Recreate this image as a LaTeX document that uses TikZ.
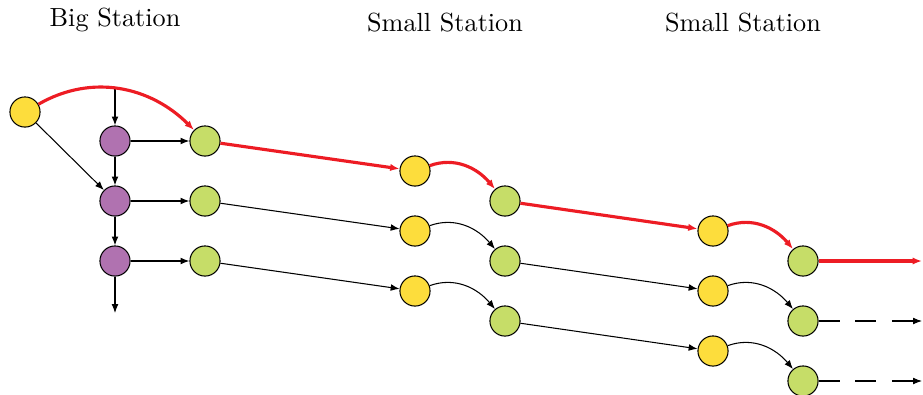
\documentclass[tikz,border=0pt]{standalone}
\usepackage{tikz}
\usetikzlibrary{arrows.meta}
\definecolor{yard}{RGB}{253,221,60}
\definecolor{hub}{RGB}{176,114,176}
\definecolor{leave}{RGB}{198,221,104}
\definecolor{route}{RGB}{237,28,36}
\tikzset{every node/.style={draw, circle, inner sep=0pt, minimum size=11.5pt}}
\tikzset{train/.style={-{Latex[length=3.4pt, width=2.6pt]}},
  fast/.style={-{Latex[length=3.6pt, width=2.8pt]}, route, very thick}}

\begin{document}
\begin{tikzpicture}[x=0.3817pt, y=-0.3817pt]
\useasboundingbox (0,0) rectangle (923,394);

\node[draw=none, rectangle] (big) at (115,20) {Big Station};
\node[draw=none, rectangle] (small1) at (445,23) {Small Station};
\node[draw=none, rectangle] (small2) at (743,23) {Small Station};

\begin{scope}[every node/.append style={fill=yard}]
\node (y0) at (25,112) {};
\node (a1) at (415,171) {};
\node (a2) at (415,231) {};
\node (a3) at (415,291) {};
\node (c1) at (713,231) {};
\node (c2) at (713,291) {};
\node (c3) at (713,351) {};
\end{scope}

\begin{scope}[every node/.append style={fill=hub}]
\node (p1) at (115,141) {};
\node (p2) at (115,201) {};
\node (p3) at (115,261) {};
\end{scope}

\begin{scope}[every node/.append style={fill=leave}]
\node (g1) at (205,141) {};
\node (g2) at (205,201) {};
\node (g3) at (205,261) {};
\node (b1) at (505,201) {};
\node (b2) at (505,261) {};
\node (b3) at (505,321) {};
\node (d1) at (803,261) {};
\node (d2) at (803,321) {};
\node (d3) at (803,381) {};
\end{scope}

\coordinate (top) at (115,89);
\coordinate (down) at (115,313);
\coordinate (e1) at (922,261);
\coordinate (e2) at (922,321);
\coordinate (e3) at (922,381);

\draw[train] (y0) -- (p2);
\draw[train] (top) -- (p1);
\draw[train] (p1) -- (p2);
\draw[train] (p2) -- (p3);
\draw[train] (p3) -- (down);
\draw[train] (p1) -- (g1);
\draw[train] (p2) -- (g2);
\draw[train] (p3) -- (g3);

\draw[train] (g2) -- (a2);
\draw[train] (g3) -- (a3);
\draw[train] (a2) to[out=20, in=130] (b2);
\draw[train] (a3) to[out=20, in=130] (b3);
\draw[train] (b2) -- (c2);
\draw[train] (b3) -- (c3);
\draw[train] (c2) to[out=20, in=130] (d2);
\draw[train] (c3) to[out=20, in=130] (d3);
\draw[train, dash pattern=on 8pt off 6pt] (d2) -- (e2);
\draw[train, dash pattern=on 8pt off 6pt] (d3) -- (e3);

\draw[fast] (y0) to[out=30, in=135] (g1);
\draw[fast] (g1) -- (a1);
\draw[fast] (a1) to[out=20, in=130] (b1);
\draw[fast] (b1) -- (c1);
\draw[fast] (c1) to[out=20, in=130] (d1);
\draw[fast] (d1) -- (e1);

\end{tikzpicture}
\end{document}
